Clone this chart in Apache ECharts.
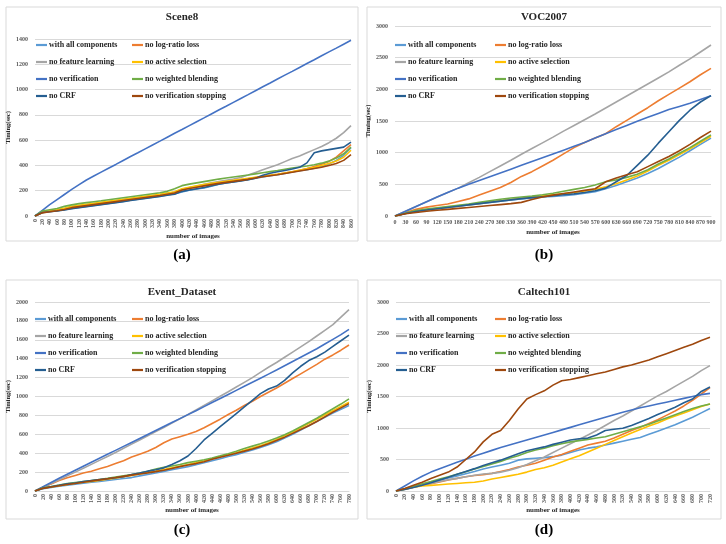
<!DOCTYPE html>
<html>
<head>
<meta charset="utf-8">
<title>Timing of ablated variants</title>
<script src="https://cdn.jsdelivr.net/npm/echarts@6/dist/echarts.min.js"></script>
<style>
  html, body { margin: 0; padding: 0; background: #fff; }
  #main { width: 726px; height: 544px; }
</style>
</head>
<body>
<div id="main"></div>
<script>
// series, in the order Excel put them in the legend
const seriesNames = ['with all components', 'no log-ratio loss', 'no feature learning', 'no active selection',
  'no verification', 'no weighted blending', 'no CRF', 'no verification stopping'];
const seriesColors = ['#5B9BD5', '#ED7D31', '#A5A5A5', '#FFC000', '#4472C4', '#70AD47', '#255E91', '#9E480E'];

// ---- (a) Scene8 ----
const scene8Images = [0,20,40,60,80,100,120,140,160,180,200,220,240,260,280,300,320,340,360,380,400,420,440,460,480,500,520,540,560,580,600,620,640,660,680,700,720,740,760,780,800,820,840,860];
const scene8All = [0,28,35,42,50,60,68,76,84,92,100,108,116,124,132,140,148,156,166,176,190,204,214,222,236,252,262,270,280,288,298,308,318,326,336,348,358,366,378,392,412,440,480,540];
const scene8LogRatio = [0,30,38,46,56,70,78,86,94,102,110,118,126,134,142,150,158,166,176,186,210,222,232,242,252,262,270,278,286,294,304,314,322,330,340,350,362,376,392,410,432,465,515,565];
const scene8Feature = [0,32,40,48,58,72,80,88,96,104,112,120,128,136,144,152,160,168,178,188,212,226,238,250,262,272,282,292,304,325,345,365,385,405,430,455,475,500,525,550,580,615,660,715];
const scene8Active = [0,35,42,50,62,76,84,92,100,108,116,124,132,140,148,156,164,172,182,192,215,228,238,248,258,266,274,282,290,298,306,314,322,330,340,350,362,374,386,400,415,435,465,520];
const scene8Verif = [0,45,90,130,170,210,248,285,316,347,378,408,439,470,500,531,562,592,623,654,684,715,746,776,807,838,868,899,930,960,991,1022,1052,1083,1114,1144,1175,1206,1236,1267,1298,1328,1359,1390];
const scene8Blend = [0,40,50,60,76,88,98,106,113,120,128,136,144,152,160,168,176,184,195,215,240,252,262,272,282,292,300,308,316,324,333,342,351,360,370,380,388,396,406,418,434,458,492,545];
const scene8Crf = [0,28,34,40,48,58,66,74,82,90,98,106,114,122,130,138,146,154,164,172,195,205,215,225,240,252,262,270,278,288,298,322,338,350,360,372,385,420,500,515,525,535,545,585];
const scene8Stop = [0,25,33,42,52,66,74,82,90,98,106,114,122,130,138,146,154,162,172,182,205,218,228,238,248,258,266,274,282,290,300,310,318,326,336,346,356,366,376,386,400,415,440,485];

// ---- (b) VOC2007 ----
const vocImages = [0,30,60,90,120,150,180,210,240,270,300,330,360,390,420,450,480,510,540,570,600,630,660,690,720,750,780,810,840,870,900];
const vocAll = [0,40,70,95,115,135,155,175,195,215,235,255,270,285,300,310,320,335,360,385,430,480,540,600,670,750,840,930,1030,1130,1230];
const vocLogRatio = [0,55,105,140,165,190,230,270,330,390,450,530,625,700,790,880,980,1080,1160,1230,1300,1410,1510,1610,1710,1820,1920,2020,2120,2230,2330];
const vocFeature = [0,75,150,225,300,370,440,525,610,700,790,880,975,1065,1155,1245,1340,1430,1520,1610,1705,1800,1895,1990,2085,2180,2275,2380,2480,2590,2700];
const vocActive = [0,40,75,100,120,140,160,180,200,220,240,260,280,300,320,335,350,370,395,420,460,510,570,630,710,800,880,970,1060,1160,1260];
const vocVerif = [0,75,150,225,300,370,440,500,560,620,680,740,800,860,920,980,1040,1100,1160,1230,1300,1365,1430,1495,1560,1620,1680,1730,1780,1840,1900];
const vocBlend = [0,45,85,110,130,150,170,190,215,240,265,285,300,315,335,360,390,420,450,490,540,570,610,660,730,820,900,990,1080,1180,1280];
const vocCrf = [0,40,70,95,115,135,155,175,195,215,235,255,275,290,305,320,335,350,370,400,440,540,640,800,960,1150,1330,1510,1670,1800,1900];
const vocStop = [0,35,55,75,90,105,120,135,150,165,180,195,215,260,300,330,355,380,405,430,540,600,650,700,780,860,940,1030,1130,1240,1340];

// ---- (c) Event_Dataset ----
const eventImages = [0,20,40,60,80,100,120,140,160,180,200,220,240,260,280,300,320,340,360,380,400,420,440,460,480,500,520,540,560,580,600,620,640,660,680,700,720,740,760,780];
const eventAll = [0,25,38,50,62,72,82,92,102,112,122,132,142,160,175,190,208,225,240,258,278,298,320,342,365,385,410,435,460,490,520,560,600,645,690,735,780,825,865,905];
const eventLogRatio = [0,40,75,110,140,165,190,210,235,260,290,320,360,390,420,460,510,550,575,600,630,670,715,760,810,855,905,950,1000,1045,1090,1140,1190,1240,1290,1340,1395,1440,1490,1545];
const eventFeature = [0,40,80,120,160,200,240,282,324,366,408,452,496,540,584,628,672,718,764,810,858,906,954,1002,1050,1100,1150,1200,1255,1310,1360,1415,1470,1525,1580,1640,1700,1760,1840,1920];
const eventActive = [0,30,42,55,70,82,92,102,112,124,136,150,165,180,195,210,228,245,262,280,300,320,342,365,385,405,430,455,480,510,545,585,625,670,715,760,805,850,895,940];
const eventVerif = [0,45,90,135,178,220,262,304,346,388,430,472,514,556,598,640,682,724,766,808,850,893,936,979,1022,1065,1108,1151,1194,1237,1280,1325,1370,1415,1460,1505,1555,1605,1655,1710];
const eventBlend = [0,35,48,62,78,90,100,110,122,134,148,162,175,190,210,232,250,265,280,300,315,330,350,372,395,420,450,475,500,530,560,595,635,680,725,770,820,870,920,975];
const eventCrf = [0,30,45,60,75,85,100,110,120,130,140,150,175,190,210,225,245,280,320,370,450,540,610,680,750,820,890,960,1030,1080,1110,1170,1250,1320,1380,1420,1470,1530,1590,1650];
const eventStop = [0,28,42,55,68,80,92,105,118,130,142,155,168,180,192,205,220,238,258,275,290,310,335,358,378,400,422,445,470,500,535,570,610,650,690,735,785,835,880,925];

// ---- (d) Caltech101 ----
const caltechImages = [0,20,40,60,80,100,120,140,160,180,200,220,240,260,280,300,320,340,360,380,400,420,440,460,480,500,520,540,560,580,600,620,640,660,680,700,720];
const caltechAll = [0,30,65,100,135,170,205,240,275,310,350,380,410,440,490,510,520,530,545,570,610,650,680,700,730,760,790,820,850,900,950,1000,1050,1110,1170,1240,1310];
const caltechLogRatio = [0,30,60,90,115,145,175,200,225,245,260,280,310,340,380,410,440,490,540,580,630,680,730,760,790,840,900,960,1010,1070,1130,1200,1270,1350,1440,1540,1640];
const caltechFeature = [0,30,60,90,120,150,180,200,225,250,270,280,300,330,370,420,480,540,610,680,750,820,890,960,1040,1120,1190,1270,1350,1430,1510,1580,1660,1740,1820,1910,1990];
const caltechActive = [0,30,60,80,90,100,110,120,130,140,160,190,215,240,265,300,340,370,410,460,510,560,620,680,740,800,860,920,975,1030,1080,1140,1190,1240,1290,1340,1380];
const caltechVerif = [0,80,160,235,300,355,405,455,505,555,600,645,690,730,770,810,850,890,930,970,1010,1050,1090,1130,1170,1210,1250,1285,1320,1350,1380,1410,1440,1470,1500,1530,1550];
const caltechBlend = [0,35,75,115,150,190,225,265,305,350,390,430,470,520,560,610,650,680,720,750,780,800,820,840,860,900,940,980,1020,1060,1110,1160,1210,1260,1310,1350,1380];
const caltechCrf = [0,25,55,90,130,175,220,265,310,355,405,450,490,540,590,640,670,700,740,775,810,830,840,890,960,980,995,1040,1095,1150,1215,1270,1330,1400,1460,1580,1650];
const caltechStop = [0,40,90,140,200,250,300,380,500,620,780,900,960,1120,1300,1460,1530,1590,1680,1750,1770,1800,1830,1860,1890,1930,1970,2000,2040,2080,2130,2180,2230,2280,2330,2390,2440];

const serif = '"Times New Roman", "Liberation Serif", serif';
const textDark = '#262626';
const gridGray = '#d9d9d9';

const panels = [
  { title: 'Scene8', caption: '(a)', cats: scene8Images, yMax: 1400, yStep: 200, rotate: 90,
    lines: [scene8All, scene8LogRatio, scene8Feature, scene8Active, scene8Verif, scene8Blend, scene8Crf, scene8Stop],
    grid: { left: 35, top: 39, width: 316, height: 177 }, box: [6, 7, 352, 234],
    cx: 182, titleY: 17, captionY: 255, legendTop: 35, legendLeft: [31, 127], xGap: 17, yGap: 20 },
  { title: 'VOC2007', caption: '(b)', cats: vocImages, yMax: 3000, yStep: 500, rotate: 0,
    lines: [vocAll, vocLogRatio, vocFeature, vocActive, vocVerif, vocBlend, vocCrf, vocStop],
    grid: { left: 395, top: 26, width: 316, height: 190 }, box: [367, 7, 354, 234],
    cx: 544, titleY: 17, captionY: 255, legendTop: 35, legendLeft: [390, 490], xGap: 13, yGap: 18 },
  { title: 'Event_Dataset', caption: '(c)', cats: eventImages, yMax: 2000, yStep: 200, rotate: 90,
    lines: [eventAll, eventLogRatio, eventFeature, eventActive, eventVerif, eventBlend, eventCrf, eventStop],
    grid: { left: 35, top: 302, width: 314, height: 189 }, box: [6, 280, 352, 239],
    cx: 182, titleY: 292, captionY: 530, legendTop: 309, legendLeft: [30, 127], xGap: 16, yGap: 20 },
  { title: 'Caltech101', caption: '(d)', cats: caltechImages, yMax: 3000, yStep: 500, rotate: 90,
    lines: [caltechAll, caltechLogRatio, caltechFeature, caltechActive, caltechVerif, caltechBlend, caltechCrf, caltechStop],
    grid: { left: 396, top: 302, width: 314, height: 189 }, box: [367, 280, 354, 239],
    cx: 544, titleY: 292, captionY: 530, legendTop: 309, legendLeft: [391, 490], xGap: 16, yGap: 20 }
];

const grids = [], xAxes = [], yAxes = [], series = [], legends = [], graphics = [];

panels.forEach((p, k) => {
  grids.push(Object.assign({ containLabel: false, outerBoundsMode: 'none' }, p.grid));

  xAxes.push({
    type: 'category', gridIndex: k, data: p.cats, boundaryGap: false,
    name: 'number of images', nameLocation: 'middle', nameGap: p.xGap,
    nameTextStyle: { fontFamily: serif, fontWeight: 'bold', fontSize: 7, color: textDark },
    axisLine: { lineStyle: { color: gridGray } },
    axisTick: { show: false },
    axisLabel: { interval: 0, rotate: p.rotate, hideOverlap: false, margin: 3,
      fontFamily: serif, fontWeight: 'bold', fontSize: 6, color: '#595959' },
    splitLine: { show: false }
  });

  yAxes.push({
    type: 'value', gridIndex: k, min: 0, max: p.yMax, interval: p.yStep,
    name: 'Timing(sec)', nameLocation: 'middle', nameGap: p.yGap, nameRotate: 90,
    nameTextStyle: { fontFamily: serif, fontWeight: 'bold', fontSize: 6.5, color: textDark },
    axisLine: { show: false }, axisTick: { show: false },
    axisLabel: { margin: 7, formatter: v => String(v),
      fontFamily: serif, fontWeight: 'bold', fontSize: 6, color: '#595959' },
    splitLine: { lineStyle: { color: gridGray, width: 1 } }
  });

  p.lines.forEach((vals, j) => {
    series.push({
      type: 'line', name: seriesNames[j], xAxisIndex: k, yAxisIndex: k,
      data: vals, symbol: 'none', smooth: false, animation: false,
      lineStyle: { width: 1.6, color: seriesColors[j] },
      itemStyle: { color: seriesColors[j] }
    });
  });

  // two legend columns, filled row by row like Excel; icon is a short line
  [0, 1].forEach(col => {
    legends.push({
      orient: 'vertical', left: p.legendLeft[col], top: p.legendTop,
      data: seriesNames.filter((n, j) => j % 2 === col),
      icon: 'rect', selectedMode: false, itemWidth: 11, itemHeight: 2.2, itemGap: 7,
      textStyle: { fontFamily: serif, fontWeight: 'bold', fontSize: 8, color: textDark, lineHeight: 10, padding: [0, 0, 0, -3] }
    });
  });

  graphics.push({
    type: 'rect', silent: true, z: -1,
    shape: { x: p.box[0], y: p.box[1], width: p.box[2], height: p.box[3] },
    style: { fill: 'none', stroke: gridGray, lineWidth: 1 }
  });
  graphics.push({
    type: 'text', x: p.cx, y: p.titleY, silent: true,
    style: { text: p.title, fill: textDark, font: 'bold 11px ' + serif, textAlign: 'center', textVerticalAlign: 'middle' }
  });
  graphics.push({
    type: 'text', x: p.cx, y: p.captionY, silent: true,
    style: { text: p.caption, fill: '#000', font: 'bold 15px ' + serif, textAlign: 'center', textVerticalAlign: 'middle' }
  });
});

const chart = echarts.init(document.getElementById('main'));
chart.setOption({
  backgroundColor: '#fff',
  animation: false,
  grid: grids,
  xAxis: xAxes,
  yAxis: yAxes,
  legend: legends,
  series: series,
  graphic: graphics
});
</script>
</body>
</html>
